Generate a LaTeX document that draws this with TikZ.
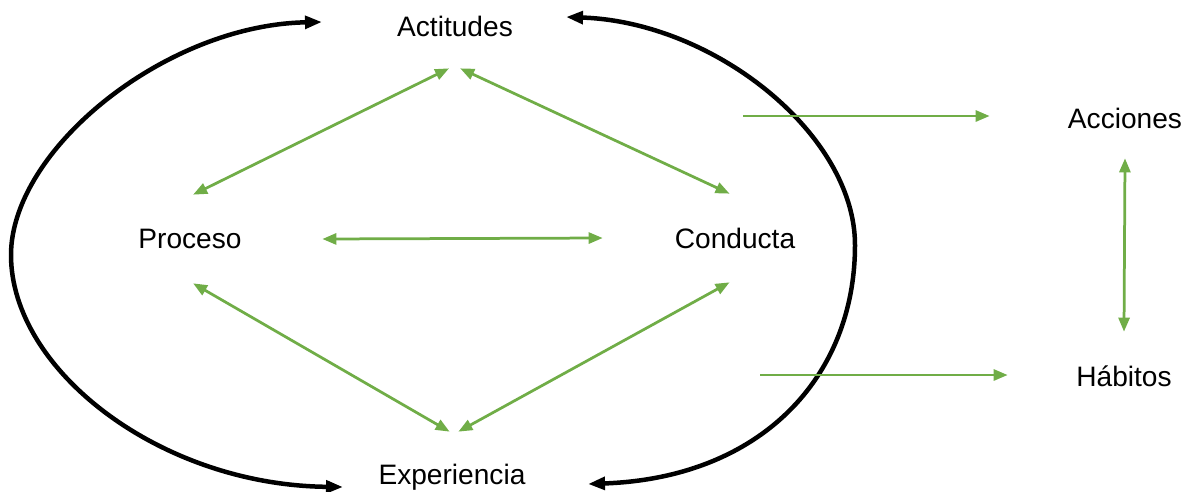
\documentclass[tikz,border=0pt]{standalone}
\usepackage{fontspec}
\setmainfont{Liberation Sans}
\usetikzlibrary{arrows.meta}
\begin{document}
\begin{tikzpicture}[x=0.02cm,y=-0.02cm,
  concepto/.style={inner sep=0pt,font=\fontsize{16}{19}\selectfont},
  verde/.style={color={rgb,255:red,112;green,173;blue,71},line width=0.055cm,
    {Triangle[length=0.28cm,width=0.22cm]}-{Triangle[length=0.28cm,width=0.22cm]}},
  negra/.style={line width=0.09cm,
    {Triangle[length=0.34cm,width=0.25cm]}-{Triangle[length=0.34cm,width=0.25cm]}}]
\useasboundingbox (0,0) rectangle (1187,491);
\node[concepto,minimum width=4cm,minimum height=1.68cm] (act) at (455,26) {Actitudes};
\node[concepto,minimum width=5.28cm,minimum height=1.76cm] (proc) at (190,239) {Proceso};
\node[concepto,minimum width=5.28cm,minimum height=1.76cm] (cond) at (735,238) {Conducta};
\node[concepto,minimum width=4cm,minimum height=1.8cm] (exp) at (452,477) {Experiencia};
\node[concepto,minimum width=5.4cm,minimum height=1.6cm] (acc) at (1125,118) {Acciones};
\node[concepto,minimum width=4.64cm,minimum height=1.76cm] (hab) at (1124,376) {Hábitos};
\coordinate (izqarriba) at (322,22);
\coordinate (izq) at (11,255);
\coordinate (izqabajo) at (343,487);
\coordinate (derarriba) at (566,17);
\coordinate (der) at (855,245);
\coordinate (derabajo) at (588,484);
\coordinate (salacc) at (743,116);
\coordinate (salhab) at (760,375);
\draw[negra] (izqabajo) .. controls (160,485) and (11,370) .. (izq)
  .. controls (11,150) and (165,25) .. (izqarriba);
\draw[negra] (derarriba) .. controls (715,22) and (855,135) .. (der)
  .. controls (855,378) and (760,478) .. (derabajo);
\draw[verde] (act.-98) -- (proc.86);
\draw[verde] (act.-83) -- (cond.97);
\draw[verde] (proc.east) -- (cond.west);
\draw[verde] (proc.-86) -- (exp.93);
\draw[verde] (cond.-97) -- (exp.82);
\draw[verde] (acc.south) -- (hab.north);
\draw[verde,-{Triangle[length=0.28cm,width=0.22cm]}] (salacc) -- (salacc -| acc.west);
\draw[verde,-{Triangle[length=0.28cm,width=0.22cm]}] (salhab) -- (salhab -| hab.west);
\end{tikzpicture}
\end{document}
